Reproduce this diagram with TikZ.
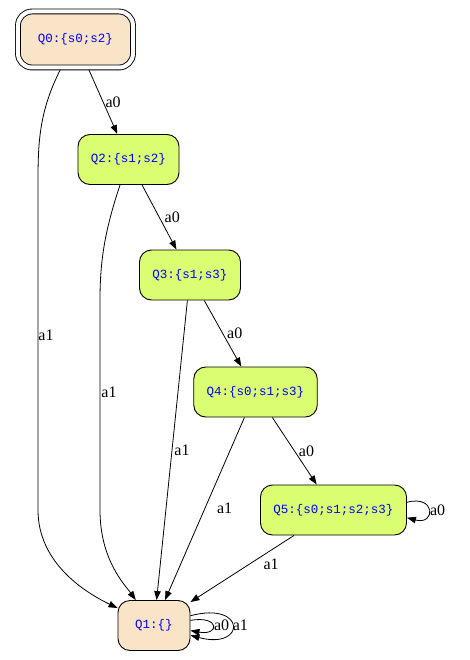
\documentclass[tikz,border=0pt]{standalone}
\usepackage{fontspec}
\setmainfont{Liberation Serif}
\newfontfamily\statefont{Liberation Mono}
\usetikzlibrary{arrows.meta}
\definecolor{state-bisque}{RGB}{250,228,200}
\definecolor{state-green}{RGB}{218,253,114}
\definecolor{state-blue}{RGB}{0,0,255}

\begin{document}
\begin{tikzpicture}[x=1pt, y=1pt,
  box/.style={rectangle, draw=black, line width=0.9pt, rounded corners=12pt,
              fill=state-green, minimum height=50pt, inner xsep=13pt,
              text=state-blue, font=\statefont\fontsize{12.5}{14}\selectfont},
  initbox/.style={box, fill=state-bisque, double=white, double distance=4pt,
                  minimum height=56pt, inner xsep=20pt, rounded corners=14pt,
                  outer sep=2.5pt},
  sinkbox/.style={box, fill=state-bisque, minimum width=72pt},
  arr/.style={-{Triangle[length=9pt, width=6.5pt]}, line width=0.8pt},
  lbl/.style={font=\fontsize{16}{18}\selectfont, inner sep=1pt}
]
  \useasboundingbox (0,0) rectangle (469,-660);

  \node[initbox] (q0) at (75.5,-39.5)  {Q0:\{s0;s2\}};
  \node[box]     (q2) at (128.5,-159.5) {Q2:\{s1;s2\}};
  \node[box]     (q3) at (190,-275)     {Q3:\{s1;s3\}};
  \node[box]     (q4) at (255.5,-392)   {Q4:\{s0;s1;s3\}};
  \node[box]     (q5) at (333.5,-510)   {Q5:\{s0;s1;s2;s3\}};
  \node[sinkbox] (q1) at (154,-625.5)   {Q1:\{\}};

  % a0 chain
  \draw[arr] (q0) -- node[lbl, right=1pt]{a0} (q2);
  \draw[arr] (q2) -- node[lbl, right=4pt]{a0} (q3);
  \draw[arr] (q3) -- node[lbl, right=3pt]{a0} (q4);
  \draw[arr] (q4) -- node[lbl, right=3pt]{a0} (q5);
  \draw[arr] (q5.6) .. controls +(15:30) and +(-15:30) .. node[lbl, right=0pt]{a0} (q5.-6);

  % a1 into the sink
  \draw[arr] (q0) .. controls (40,-110) and (38,-140) .. (38,-180)
    -- node[lbl, pos=0.47, right=-1pt]{a1} (38,-510)
    .. controls (38,-560) and (80,-590) .. (q1);
  \draw[arr] (q2) .. controls (105,-230) and (100,-260) .. (100,-300)
    -- node[lbl, pos=0.44, right=0pt]{a1} (100,-510)
    .. controls (100,-560) and (125,-585) .. (q1);
  \draw[arr] (q3) -- node[lbl, right=1pt]{a1} (q1);
  \draw[arr] (q4) -- node[lbl, right=11pt]{a1} (q1);
  \draw[arr] (q5) -- node[lbl, pos=0.25, below=5pt, xshift=3pt]{a1} (q1);

  % sink loops
  \draw[arr] (q1.8) .. controls +(10:30) and +(-10:30) .. node[lbl, right=0pt]{a0} (q1.-8);
  \draw[arr] (q1.15) .. controls +(15:58) and +(-15:58) .. node[lbl, right=-1pt]{a1} (q1.-15);
\end{tikzpicture}
\end{document}
